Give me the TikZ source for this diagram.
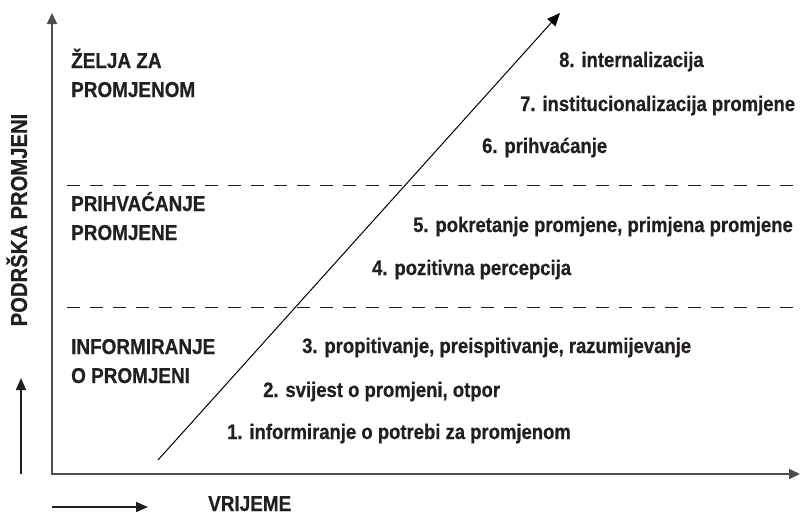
\documentclass[tikz,border=0pt]{standalone}
\usepackage{fontspec}
\setmainfont{Liberation Sans}[FakeStretch=0.88,BoldFeatures={FakeBold=0.6}]
\usetikzlibrary{arrows.meta}
\definecolor{axisgray}{HTML}{4D4D4D}
\definecolor{inkdark}{HTML}{231F20}

\begin{document}
\begin{tikzpicture}[
		x={(1pt,0pt)},
		y={(0pt,-1pt)},
		axis/.style={draw=axisgray,line width=2pt},
		band/.style={anchor=base west,inner sep=0pt,align=left,text=inkdark,font=\fontsize{21.5}{29}\selectfont\bfseries},
		stage/.style={anchor=base west,inner sep=0pt,text=inkdark,font=\fontsize{21}{23}\selectfont\bfseries},
		divider/.style={draw=inkdark,line width=1pt,dash pattern=on 13pt off 10pt},
	]
		\useasboundingbox (0,0) rectangle (800,514);
		
		% axes
		\coordinate (O) at (52,474);
		\coordinate (ytip) at (52,13);
		\coordinate (xtip) at (800,474);
		\draw[axis,{Triangle[length=11pt,width=10pt]}-{Triangle[length=11pt,width=10pt]}] (ytip) -- (O) -- (xtip);
		
		% small direction arrows
		\coordinate (vfrom) at (21,474);
		\coordinate (vto) at (21,378);
		\coordinate (hfrom) at (52,507);
		\coordinate (hto) at (148,507);
		\draw[line width=1.5pt,inkdark,-{Triangle[length=12pt,width=10pt]}] (vfrom) -- (vto);
		\draw[line width=1.5pt,inkdark,-{Triangle[length=12pt,width=10pt]}] (hfrom) -- (hto);
		
		\node[anchor=base,inner sep=0pt,rotate=90,text=inkdark,font=\fontsize{23}{23}\selectfont\bfseries] (support) at (27,220) {PODRŠKA PROMJENI};
		\node[anchor=base west,inner sep=0pt,text=inkdark,font=\fontsize{21.5}{22}\selectfont\bfseries] (time) at (208,511) {VRIJEME};
		
		% band borders
		\coordinate (d1a) at (67,185);
		\coordinate (d1b) at (800,185);
		\coordinate (d2a) at (67,307);
		\coordinate (d2b) at (800,307);
		\draw[divider] (d1a) -- (d1b);
		\draw[divider] (d2a) -- (d2b);
		
		\node[band] (desire) at (71,97) {ŽELJA ZA\\PROMJENOM};
		\node[band] (accept) at (71,240) {PRIHVAĆANJE\\PROMJENE};
		\node[band] (inform) at (71,383) {INFORMIRANJE\\O PROMJENI};
		
		% growth arrow
		\coordinate (gstart) at (158,460);
		\coordinate (gend) at (560,13);
		\draw[line width=1pt,black,-{Triangle[length=13pt,width=11pt]}] (gstart) -- (gend);
		
		\foreach \n/\x/\y/\txt in {1/227/439/{1. informiranje o potrebi za promjenom}, 2/263/397/{2. svijest o promjeni, otpor}, 3/302/353/{3. propitivanje, preispitivanje, razumijevanje}, 4/372/275/{4. pozitivna percepcija}, 5/413/232/{5. pokretanje promjene, primjena promjene}, 6/482/153/{6. prihvaćanje}, 7/520/111/{7. institucionalizacija promjene}, 8/559/67/{8. internalizacija}}{
			\node[stage] (step\n) at (\x,\y) {\txt};
		}
	\end{tikzpicture}
\end{document}
